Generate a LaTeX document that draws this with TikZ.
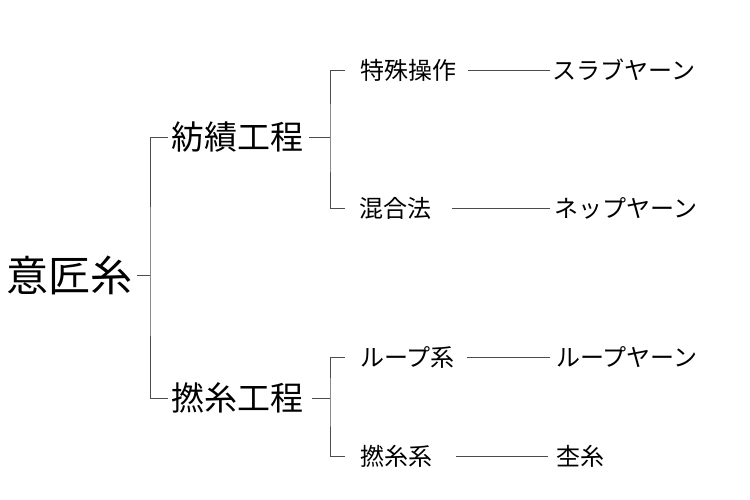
\documentclass[tikz,border=0pt]{standalone}
\usepackage{fontspec}
\setmainfont{Noto Sans CJK JP}
\usepackage{tikz}

\begin{document}
\begin{tikzpicture}[x=1pt, y=-1pt, every node/.style={anchor=west, inner sep=0pt}, big/.style={font=\fontsize{42}{42}\selectfont}, mid/.style={font=\fontsize{33}{33}\selectfont}, small/.style={font=\fontsize{24}{24}\selectfont}, link/.style={draw=black!70, line width=0.9pt}]
		\useasboundingbox (0,0) rectangle (750,500);
		\node[big](root) at (6,275){意匠糸};
		\node[mid](spin) at (171,137){紡績工程};
		\node[mid](twist) at (171,398){撚糸工程};
		\node[small](spec) at (360,70){特殊操作};
		\node[small](mix) at (359,208){混合法};
		\node[small](loop) at (360,357){ループ系};
		\node[small](twsys) at (360,456){撚糸系};
		\node[small](slub) at (552,70){スラブヤーン};
		\node[small](nep) at (554,208){ネップヤーン};
		\node[small](loopy) at (556,357){ループヤーン};
		\node[small](moku) at (556,456){杢糸};
		\coordinate(f0) at (150,275);
		\coordinate(f1) at (330,137);
		\coordinate(f2) at (330,398);
		\draw[link, shorten <=5pt] (root.east) -- (f0);
		\draw[link, shorten <=3pt, shorten >=3pt] (spin.west) -| (f0) |- (twist.west);
		\draw[link, shorten <=6pt] (spin.east) -- (f1);
		\draw[link, shorten <=15pt, shorten >=14pt] (spec.west) -| (f1) |- (mix.west);
		\draw[link, shorten <=9pt] (twist.east) -- (f2);
		\draw[link, shorten <=15pt, shorten >=15pt] (loop.west) -| (f2) |- (twsys.west);
		\draw[link, shorten <=12pt, shorten >=2pt] (spec.east) -- (slub.west);
		\draw[link, shorten <=21pt, shorten >=4pt] (mix.east) -- (nep.west);
		\draw[link, shorten <=12pt, shorten >=6pt] (loop.east) -- (loopy.west);
		\draw[link, shorten <=24pt, shorten >=8pt] (twsys.east) -- (moku.west);
	\end{tikzpicture}
\end{document}
